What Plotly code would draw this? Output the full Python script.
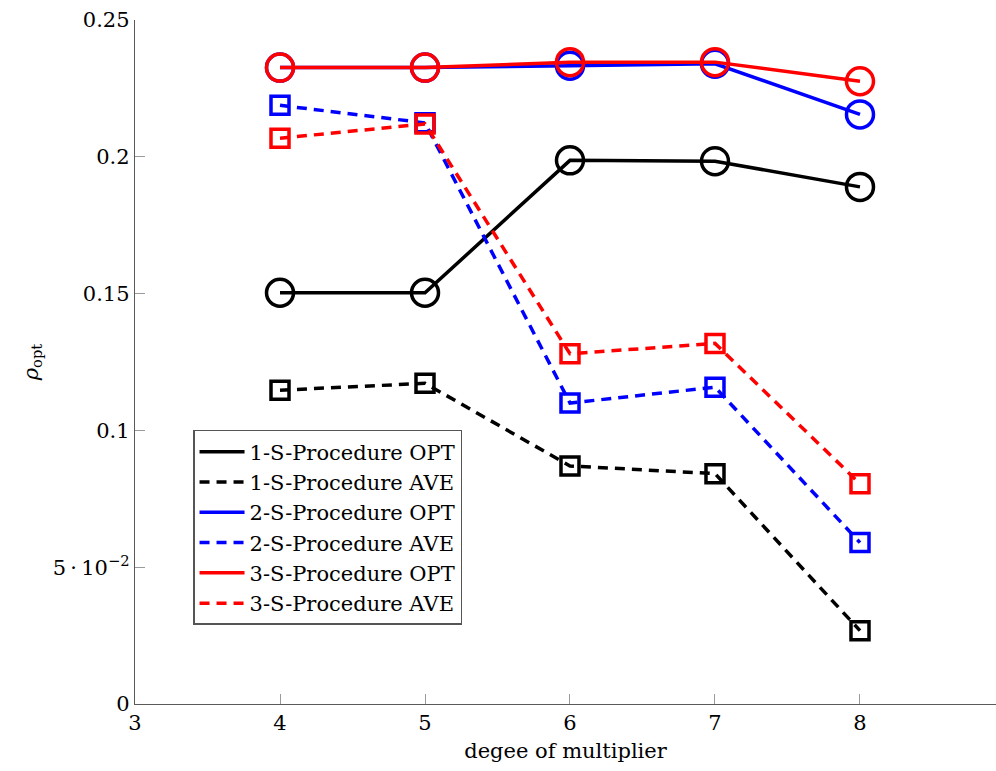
import plotly.graph_objects as go

# degree of the multiplier polynomial
degree = [4, 5, 6, 7, 8]

# optimal and averaged rho for each S-procedure variant
s1_opt = [0.1503, 0.1503, 0.1987, 0.1984, 0.1890]
s1_ave = [0.1147, 0.1172, 0.0870, 0.0842, 0.0268]
s2_opt = [0.2326, 0.2326, 0.2333, 0.2340, 0.2155]
s2_ave = [0.2188, 0.2124, 0.1100, 0.1158, 0.0590]
s3_opt = [0.2326, 0.2326, 0.2346, 0.2346, 0.2276]
s3_ave = [0.2068, 0.2120, 0.1280, 0.1318, 0.0805]

series = [
    ("1-S-Procedure OPT", s1_opt, "black", "solid", "circle-open"),
    ("1-S-Procedure AVE", s1_ave, "black", "dash", "square-open"),
    ("2-S-Procedure OPT", s2_opt, "#0000ff", "solid", "circle-open"),
    ("2-S-Procedure AVE", s2_ave, "#0000ff", "dash", "square-open"),
    ("3-S-Procedure OPT", s3_opt, "#ff0000", "solid", "circle-open"),
    ("3-S-Procedure AVE", s3_ave, "#ff0000", "dash", "square-open"),
]

y_ticks = [0, 0.05, 0.1, 0.15, 0.2, 0.25]
y_tick_text = ["0", "5\u2009\u00b7\u200910<sup>\u22122</sup>", "0.1", "0.15", "0.2", "0.25"]
x_ticks = [3, 4, 5, 6, 7, 8]

FONT = "DejaVu Serif"
LW = 3.5
DASH = "10px,7px"

fig = go.Figure()
for name, vals, color, style, symbol in series:
    dash = DASH if style == "dash" else "solid"
    size = 27 if symbol == "circle-open" else 18
    fig.add_trace(go.Scatter(
        x=degree, y=vals, mode="lines+markers", showlegend=False,
        line=dict(color=color, width=LW, dash=dash),
        marker=dict(symbol=symbol, size=size, color=color,
                    line=dict(color=color, width=LW)),
        name=name,
    ))

# legend entries show the line style only
for name, vals, color, style, symbol in series:
    dash = DASH if style == "dash" else "solid"
    fig.add_trace(go.Scatter(
        x=[None], y=[None], mode="lines", name=name,
        line=dict(color=color, width=LW, dash=dash),
    ))

axis_common = dict(
    showline=True, linecolor="#5a5a5a", linewidth=1.4,
    ticks="inside", ticklen=10, tickcolor="#9a9a9a", tickwidth=1,
    showgrid=False, zeroline=False,
    tickfont=dict(family=FONT, size=21, color="black"),
    mirror=False,
)

fig.update_layout(
    width=996, height=771,
    margin=dict(l=135, r=0, t=20, b=67),
    paper_bgcolor="white", plot_bgcolor="white",
    font=dict(family=FONT, size=21, color="black"),
    xaxis=dict(range=[3, 8.938], tickvals=x_ticks,
               title=dict(text="degee of multiplier", standoff=8,
                          font=dict(family=FONT, size=21)),
               **axis_common),
    yaxis=dict(range=[0, 0.25], tickvals=y_ticks, ticktext=y_tick_text,
               title=dict(text="<i>\u03c1</i><sub>opt</sub>", standoff=8,
                          font=dict(family=FONT, size=21)),
               **axis_common),
    legend=dict(x=0.0674, y=0.4006, xanchor="left", yanchor="top",
                bgcolor="white", bordercolor="#555555", borderwidth=1.5,
                font=dict(family=FONT, size=21, color="black"),
                itemwidth=45, traceorder="normal"),
)

fig.write_html("out.html")
